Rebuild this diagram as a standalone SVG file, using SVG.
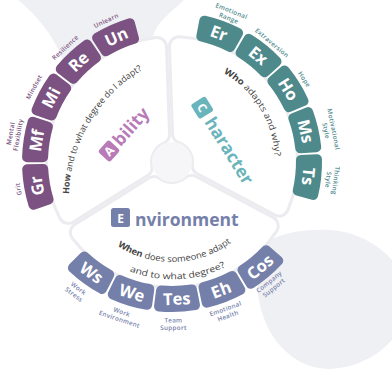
<svg xmlns="http://www.w3.org/2000/svg" width="392" height="371" viewBox="0 0 392 371">
<defs>
<style>
  .sans{font-family:"Open Sans","DejaVu Sans",sans-serif}
  .band{fill:#ececf0;stroke:#ececf0;stroke-width:22;stroke-linejoin:round}
  .panel{fill:#fff;stroke:#fff;stroke-width:16;stroke-linejoin:round}
  .tile{stroke-width:10;stroke-linejoin:round}
  .t-a{fill:#7b5281;stroke:#7b5281}
  .t-c{fill:#4e8a8c;stroke:#4e8a8c}
  .t-e{fill:#7580aa;stroke:#7580aa}
  .code{font-weight:700;font-size:16.5px;fill:#fff;text-anchor:middle}
  .lbl{font-weight:600;font-size:6.3px;letter-spacing:.3px;text-anchor:middle}
  .l-a{fill:#7b5281}
  .l-c{fill:#4e8a8c}
  .l-e{fill:#7580aa}
  .q{font-size:8.8px;fill:#444}
  .big{font-weight:700;font-size:17.5px}
  .cap{font-weight:700;font-size:12px;fill:#fff;text-anchor:middle}
</style>
<!-- one 120° panel, centred on +x, inset by the corner radius (stroke rounds it back out) -->
<path id="sector" d="M23.48,-18.67 L67.27,-94.5 A116,116 0 0 1 67.27,94.5 L23.48,18.67 A30,30 0 0 0 23.48,-18.67Z"/>
<!-- one ring tile, centred on +x, r 124..150 once stroked -->
<path id="tile" d="M128.07,-15.45 L143.88,-17.98 A145,145 0 0 1 143.88,17.98 L128.07,15.45 A129,129 0 0 0 128.07,-15.45Z"/>
<path id="q-ability" d="M69,194 A150,150 0 0 1 144,69"/>
<path id="q-character" d="M223.5,72.8 A103,103 0 0 1 275,162"/>
<path id="q-env1" d="M117.5,245.9 A100,100 0 0 0 231.2,242.6"/>
<path id="q-env2" d="M129.5,271.2 A117.5,117.5 0 0 0 226.3,266.3"/>
</defs>

<rect width="392" height="371" fill="#fff"/>

<!-- soft backdrop shapes -->
<g id="backdrop" fill="#eff0f4">
  <path d="M18,0 H184 C174,9 163,18 157,27 C152,35 151,45 151,58 L66,72 C62,55 56,44 48,32 C38,18 28,8 18,0Z"/>
  <path d="M263,244 C278,234 300,229 330,230 C360,232 385,248 400,270 L400,330 C385,352 360,368 330,369 C305,369 285,355 272,335 C260,315 255,290 258,270 C259,258 260,250 263,244Z"/>
</g>

<!-- panel outlines and the hub -->
<g id="panel-bands">
  <use href="#sector" class="band" transform="translate(172 162) rotate(88)"/>
  <use href="#sector" class="band" transform="translate(172 162) rotate(208)"/>
  <use href="#sector" class="band" transform="translate(172 162) rotate(328)"/>
  <circle cx="172" cy="162" r="20" fill="#f6f6f8"/>
</g>

<!-- Ability -->
<g id="ability">
  <use href="#sector" class="panel" transform="translate(172 162) rotate(208)"/>
  <g id="ability-title" transform="translate(109 151) rotate(-48)">
    <rect x="-8" y="-8" width="16" height="16" rx="2.5" fill="#b87bb7"/>
    <text class="sans cap" y="4.3">A</text>
    <text class="sans big" x="10.5" y="6" fill="#b87bb7" font-size="17">bility</text>
  </g>
  <text class="sans q"><textPath href="#q-ability" textLength="150" lengthAdjust="spacingAndGlyphs"><tspan font-weight="700">How</tspan> and to what degree do I adapt?</textPath></text>
  <g id="tile-gr">
    <use href="#tile" class="tile t-a" transform="translate(172 162) rotate(170)"/>
    <text class="sans code" transform="translate(172 162) rotate(170) translate(137 0) rotate(90)" y="5.8">Gr</text>
    <text class="sans lbl l-a" transform="translate(172 162) rotate(170) translate(156 0) rotate(90)" y="2.2">Grit</text>
  </g>
  <g id="tile-mf">
    <use href="#tile" class="tile t-a" transform="translate(172 162) rotate(189)"/>
    <text class="sans code" transform="translate(172 162) rotate(189) translate(137 0) rotate(90)" y="5.8">Mf</text>
    <text class="sans lbl l-a" transform="translate(172 162) rotate(190) translate(160 0) rotate(90)"><tspan x="0" y="-1.6">Mental</tspan><tspan x="0" y="6">Flexibility</tspan></text>
  </g>
  <g id="tile-mi">
    <use href="#tile" class="tile t-a" transform="translate(172 162) rotate(208)"/>
    <text class="sans code" transform="translate(172 162) rotate(208) translate(137 0) rotate(90)" y="5.8">Mi</text>
    <text class="sans lbl l-a" transform="translate(172 162) rotate(208.5) translate(157 0) rotate(90)" y="2.2">Mindset</text>
  </g>
  <g id="tile-re">
    <use href="#tile" class="tile t-a" transform="translate(172 162) rotate(227)"/>
    <text class="sans code" transform="translate(172 162) rotate(227) translate(137 0) rotate(90)" y="5.8">Re</text>
    <text class="sans lbl l-a" transform="translate(172 162) rotate(227) translate(156.5 0) rotate(90)" y="2.2">Resilience</text>
  </g>
  <g id="tile-un">
    <use href="#tile" class="tile t-a" transform="translate(172 162) rotate(246)"/>
    <text class="sans code" transform="translate(172 162) rotate(246) translate(137 0) rotate(90)" y="5.8">Un</text>
    <text class="sans lbl l-a" transform="translate(172 162) rotate(245) translate(156 0) rotate(90)" y="2.2">Unlearn</text>
  </g>
</g>

<!-- Character -->
<g id="character">
  <use href="#sector" class="panel" transform="translate(172 162) rotate(328)"/>
  <g id="character-title" transform="translate(202.2 107.7) rotate(58)">
    <rect x="-8.5" y="-8.5" width="17" height="17" rx="2.5" fill="#6ab4bc"/>
    <text class="sans cap" y="4.3">C</text>
    <text class="sans big" x="13" y="6" fill="#6ab4bc" font-size="18">haracter</text>
  </g>
  <text class="sans q"><textPath href="#q-character" textLength="102" lengthAdjust="spacingAndGlyphs"><tspan font-weight="700">Who</tspan> adapts and why?</textPath></text>
  <g id="tile-er">
    <use href="#tile" class="tile t-c" transform="translate(172 162) rotate(290)"/>
    <text class="sans code" transform="translate(172 162) rotate(290) translate(137 0) rotate(90)" y="5.8">Er</text>
    <text class="sans lbl l-c" transform="translate(172 162) rotate(291.5) translate(158.5 0) rotate(90)"><tspan x="0" y="-1.6">Emotional</tspan><tspan x="0" y="6">Range</tspan></text>
  </g>
  <g id="tile-ex">
    <use href="#tile" class="tile t-c" transform="translate(172 162) rotate(309)"/>
    <text class="sans code" transform="translate(172 162) rotate(309) translate(137 0) rotate(90)" y="5.8">Ex</text>
    <text class="sans lbl l-c" transform="translate(172 162) rotate(310) translate(155.5 0) rotate(90)" y="2.2">Extraversion</text>
  </g>
  <g id="tile-ho">
    <use href="#tile" class="tile t-c" transform="translate(172 162) rotate(328)"/>
    <text class="sans code" transform="translate(172 162) rotate(328) translate(137 0) rotate(90)" y="5.8">Ho</text>
    <text class="sans lbl l-c" transform="translate(172 162) rotate(328) translate(156 0) rotate(90)" y="2.2">Hope</text>
  </g>
  <g id="tile-ms">
    <use href="#tile" class="tile t-c" transform="translate(172 162) rotate(347)"/>
    <text class="sans code" transform="translate(172 162) rotate(347) translate(137 0) rotate(90)" y="5.8">Ms</text>
    <text class="sans lbl l-c" transform="translate(172 162) rotate(348.5) translate(161 0) rotate(90)"><tspan x="0" y="-1.6">Motivational</tspan><tspan x="0" y="6">Style</tspan></text>
  </g>
  <g id="tile-ts">
    <use href="#tile" class="tile t-c" transform="translate(172 162) rotate(366)"/>
    <text class="sans code" transform="translate(172 162) rotate(366) translate(137 0) rotate(90)" y="5.8">Ts</text>
    <text class="sans lbl l-c" transform="translate(172 162) rotate(366.5) translate(161 0) rotate(90)"><tspan x="0" y="-1.6">Thinking</tspan><tspan x="0" y="6">Style</tspan></text>
  </g>
</g>

<!-- Environment -->
<g id="environment">
  <use href="#sector" class="panel" transform="translate(172 162) rotate(88)"/>
  <g id="environment-title">
    <rect x="111" y="208" width="19" height="19" rx="2.5" fill="#7580aa"/>
    <text class="sans cap" x="120.5" y="222.5" font-size="13">E</text>
    <text class="sans big" x="135" y="226" fill="#7580aa">nvironment</text>
  </g>
  <text class="sans q"><textPath href="#q-env1" textLength="121" lengthAdjust="spacingAndGlyphs"><tspan font-weight="700">When</tspan> does someone adapt</textPath></text>
  <text class="sans q"><textPath href="#q-env2" textLength="99" lengthAdjust="spacingAndGlyphs">and to what degree?</textPath></text>
  <g id="tile-ws">
    <use href="#tile" class="tile t-e" transform="translate(172 162) rotate(126)"/>
    <text class="sans code" transform="translate(172 162) rotate(126) translate(137 0) rotate(-90)" y="5.8">Ws</text>
    <text class="sans lbl l-e" transform="translate(172 162) rotate(126.5) translate(161 0) rotate(-90)"><tspan x="0" y="-1.6">Work</tspan><tspan x="0" y="6">Stress</tspan></text>
  </g>
  <g id="tile-we">
    <use href="#tile" class="tile t-e" transform="translate(172 162) rotate(107)"/>
    <text class="sans code" transform="translate(172 162) rotate(107) translate(137 0) rotate(-90)" y="5.8">We</text>
    <text class="sans lbl l-e" transform="translate(172 162) rotate(108.5) translate(162 0) rotate(-90)"><tspan x="0" y="-1.6">Work</tspan><tspan x="0" y="6">Environment</tspan></text>
  </g>
  <g id="tile-tes">
    <use href="#tile" class="tile t-e" transform="translate(172 162) rotate(88)"/>
    <text class="sans code" transform="translate(172 162) rotate(88) translate(137 0) rotate(-90)" y="5.8">Tes</text>
    <text class="sans lbl l-e" transform="translate(172 162) rotate(89.5) translate(162 0) rotate(-90)"><tspan x="0" y="-1.6">Team</tspan><tspan x="0" y="6">Support</tspan></text>
  </g>
  <g id="tile-eh">
    <use href="#tile" class="tile t-e" transform="translate(172 162) rotate(69)"/>
    <text class="sans code" transform="translate(172 162) rotate(69) translate(137 0) rotate(-90)" y="5.8">Eh</text>
    <text class="sans lbl l-e" transform="translate(172 162) rotate(70) translate(160 0) rotate(-90)"><tspan x="0" y="-1.6">Emotional</tspan><tspan x="0" y="6">Health</tspan></text>
  </g>
  <g id="tile-cos">
    <use href="#tile" class="tile t-e" transform="translate(172 162) rotate(50)"/>
    <text class="sans code" transform="translate(172 162) rotate(50) translate(137 0) rotate(-90)" y="5.8">Cos</text>
    <text class="sans lbl l-e" transform="translate(172 162) rotate(51) translate(158 0) rotate(-90)"><tspan x="0" y="-1.6">Company</tspan><tspan x="0" y="6">Support</tspan></text>
  </g>
</g>
</svg>
